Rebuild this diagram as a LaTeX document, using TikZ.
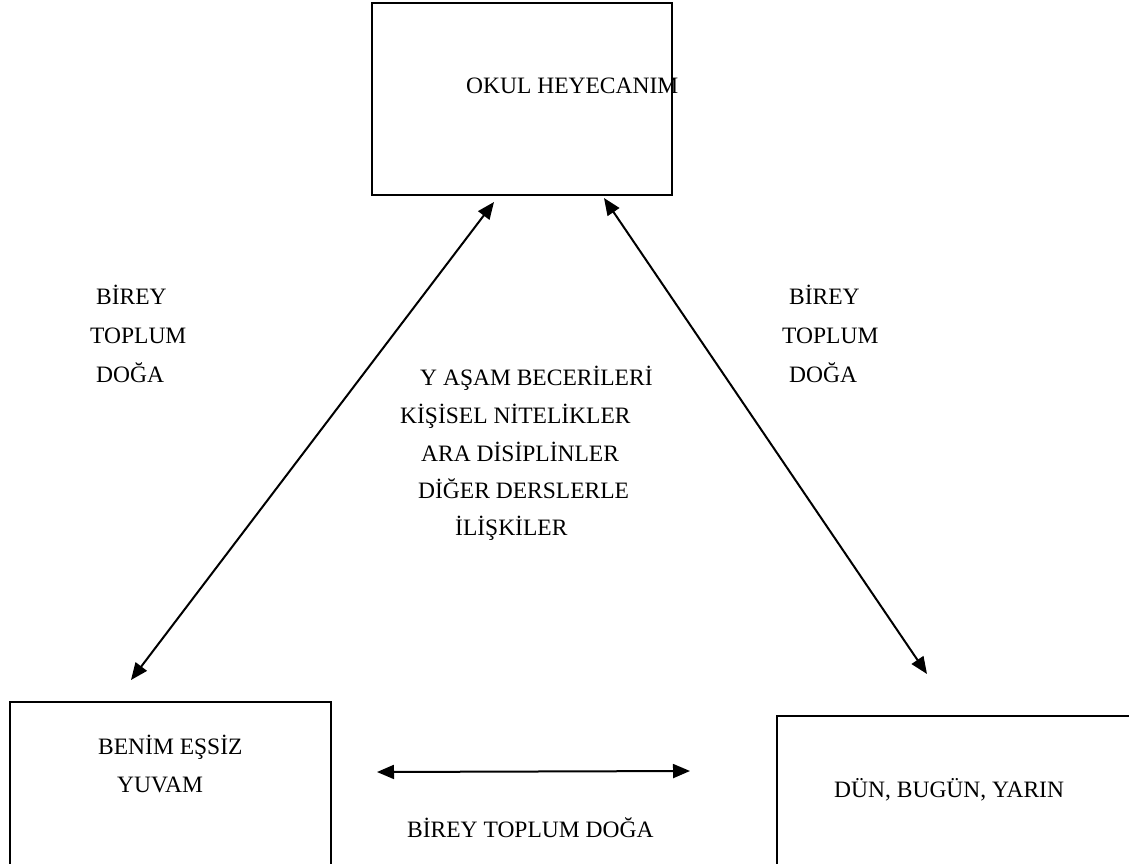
\documentclass[tikz,border=0pt]{standalone}
\usepackage{fontspec}
\setmainfont{Liberation Serif}
\usetikzlibrary{arrows.meta}
\begin{document}
\begin{tikzpicture}[x=1pt,y=-1pt,
  box/.style={draw, line width=1.6pt, rectangle, inner sep=0pt},
  lbl/.style={anchor=base west, inner sep=0pt, font=\fontsize{23.5}{28}\selectfont},
  dbl/.style={line width=2pt, {Triangle[length=17pt,width=14pt]}-{Triangle[length=17pt,width=14pt]}}]
\useasboundingbox (0,0) rectangle (1129,863);
\clip (0,0) rectangle (1129,863);
% boxes
\node[box, minimum width=300pt, minimum height=192pt] (top) at (522,99) {};
\node[box, minimum width=321pt, minimum height=188pt] (bl) at (170.5,796) {};
\node[box, minimum width=373pt, minimum height=184pt] (br) at (963.5,808) {};
% box texts
\node[lbl] (ttop) at (466,93) {OKUL HEYECANIM};
\node[lbl] (tbl1) at (98,754) {BENİM EŞSİZ};
\node[lbl] (tbl2) at (117,792) {YUVAM};
\node[lbl] (tbr) at (834,797) {DÜN, BUGÜN, YARIN};
% side labels
\node[lbl] (l1) at (96,304) {BİREY};
\node[lbl] (l2) at (90,343) {TOPLUM};
\node[lbl] (l3) at (96,382) {DOĞA};
\node[lbl] (r1) at (789,304) {BİREY};
\node[lbl] (r2) at (782,343) {TOPLUM};
\node[lbl] (r3) at (789,382) {DOĞA};
% centre labels
\node[lbl] (c1) at (420,385) {Y AŞAM BECERİLERİ};
\node[lbl] (c2) at (400,423) {KİŞİSEL NİTELİKLER};
\node[lbl] (c3) at (421,461) {ARA DİSİPLİNLER};
\node[lbl] (c4) at (418,498) {DİĞER DERSLERLE};
\node[lbl] (c5) at (455,535) {İLİŞKİLER};
\node[lbl] (bot) at (407,837) {BİREY TOPLUM DOĞA};
% arrow ends
\coordinate (a1) at (494,202);
\coordinate (a2) at (131,680);
\coordinate (b1) at (604,198);
\coordinate (b2) at (927,674);
\coordinate (h1) at (377,772);
\coordinate (h2) at (690,771);
\draw[dbl] (a2) -- (a1);
\draw[dbl] (b1) -- (b2);
\draw[dbl] (h1) -- (h2);
\end{tikzpicture}
\end{document}
